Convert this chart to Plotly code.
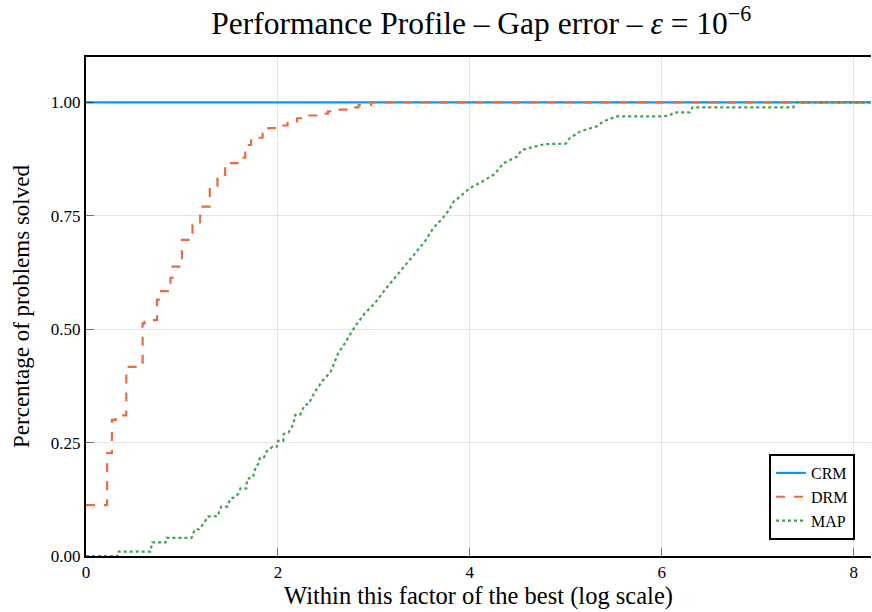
import plotly.graph_objects as go

# CRM: always solved
crm_x = [0.0, 8.2]
crm_y = [1.0, 1.0]

# DRM: step function (x where value starts, value)
drm_x = [0.0, 0.22, 0.27, 0.31, 0.42, 0.59, 0.61, 0.74, 0.76, 0.88, 0.90, 1.00,
         1.11, 1.19, 1.29, 1.37, 1.45, 1.58, 1.66, 1.72, 1.84, 1.90, 2.00, 2.10,
         2.20, 2.30, 2.40, 2.52, 2.63, 2.74, 2.84, 2.97, 8.2]
drm_y = [0.112, 0.227, 0.300, 0.310, 0.417, 0.513, 0.520, 0.565, 0.584, 0.613, 0.638, 0.697,
         0.730, 0.770, 0.809, 0.840, 0.866, 0.878, 0.906, 0.922, 0.934, 0.943, 0.949, 0.958,
         0.965, 0.971, 0.975, 0.980, 0.984, 0.989, 0.994, 1.000, 1.000]

# MAP: vertices
map_x = [0.0, 0.33, 0.33, 0.67, 0.69, 0.83, 0.84, 1.10, 1.135, 1.18, 1.23, 1.27, 1.375,
         1.39, 1.41, 1.475, 1.50, 1.56, 1.59, 1.61, 1.67, 1.68, 1.74, 1.77, 1.80, 1.81,
         1.85, 1.88, 1.945, 1.99, 2.0, 2.055, 2.06, 2.11, 2.16, 2.18, 2.23, 2.28, 2.32,
         2.385, 2.472, 2.549, 2.628, 2.698, 2.802, 2.906, 3.01, 3.115, 3.229, 3.34, 3.44,
         3.53, 3.62, 3.705, 3.785, 3.83, 3.878, 4.0, 4.10, 4.26, 4.35, 4.49, 4.54, 4.69,
         4.78, 5.0, 5.04, 5.15, 5.32, 5.39, 5.48, 5.53, 6.01, 6.08, 6.13, 6.29, 6.32,
         7.37, 7.40, 8.2]
map_y = [0.0, 0.0, 0.0095, 0.0095, 0.030, 0.030, 0.040, 0.040, 0.059, 0.059, 0.073, 0.087, 0.088,
         0.100, 0.109, 0.109, 0.125, 0.131, 0.138, 0.149, 0.149, 0.170, 0.174, 0.197, 0.204, 0.215,
         0.215, 0.230, 0.241, 0.241, 0.254, 0.254, 0.269, 0.272, 0.290, 0.311, 0.311, 0.333, 0.335,
         0.362, 0.388, 0.406, 0.447, 0.469, 0.506, 0.535, 0.557, 0.587, 0.616, 0.644, 0.669,
         0.693, 0.723, 0.742, 0.763, 0.781, 0.789, 0.811, 0.822, 0.842, 0.866, 0.880, 0.895, 0.903,
         0.908, 0.909, 0.921, 0.936, 0.947, 0.958, 0.966, 0.969, 0.969, 0.971, 0.978, 0.978, 0.989,
         0.989, 1.0, 1.0]

x_ticks = [0, 2, 4, 6, 8]
y_ticks = [0.0, 0.25, 0.5, 0.75, 1.0]
y_tick_labels = ["0.00", "0.25", "0.50", "0.75", "1.00"]

FONT = "Liberation Serif, DejaVu Serif, serif"

fig = go.Figure()
fig.add_trace(go.Scatter(x=crm_x, y=crm_y, mode="lines", name="CRM",
                         line=dict(color="#009AFA", width=2.2, dash="solid")))
fig.add_trace(go.Scatter(x=drm_x, y=drm_y, mode="lines", name="DRM", line_shape="hv",
                         line=dict(color="#E26F46", width=2.2, dash="dash")))
fig.add_trace(go.Scatter(x=map_x, y=map_y, mode="lines", name="MAP",
                         line=dict(color="#3DA44D", width=2.2, dash="dot")))

fig.update_layout(
    width=872, height=612,
    margin=dict(l=86, r=1, t=57, b=56),
    paper_bgcolor="white", plot_bgcolor="white",
    font=dict(family=FONT, color="black"),
    title=dict(text="Performance Profile – Gap error – <i>ε</i> = 10<sup>−6</sup>",
               x=0.552, xanchor="center", y=0.962, yanchor="middle",
               font=dict(size=31.5, family=FONT, color="black")),
    legend=dict(x=0.9796, y=0.032, xanchor="right", yanchor="bottom",
                bgcolor="white", bordercolor="black", borderwidth=2,
                font=dict(size=16, family=FONT), tracegroupgap=0,
                itemwidth=30),
    showlegend=True,
)
fig.update_xaxes(range=[0, 8.18], tickvals=x_ticks, ticktext=[str(v) for v in x_ticks],
                 showgrid=True, gridcolor="rgba(0,0,0,0.1)", gridwidth=1,
                 showline=True, linecolor="black", linewidth=2, mirror=True,
                 ticks="inside", ticklen=8, tickcolor="rgba(0,0,0,0.5)", tickwidth=1,
                 zeroline=False, tickfont=dict(size=17, family=FONT),
                 title=dict(text="Within this factor of the best (log scale)",
                            font=dict(size=24.5, family=FONT), standoff=3))
fig.update_yaxes(range=[0, 1.1], tickvals=y_ticks, ticktext=y_tick_labels,
                 showgrid=True, gridcolor="rgba(0,0,0,0.1)", gridwidth=1,
                 showline=True, linecolor="black", linewidth=2, mirror=False,
                 ticks="inside", ticklen=8, tickcolor="rgba(0,0,0,0.5)", tickwidth=1,
                 zeroline=False, tickfont=dict(size=17, family=FONT),
                 title=dict(text="Percentage of problems solved",
                            font=dict(size=23, family=FONT), standoff=15))

fig.write_html("out.html", config={"displayModeBar": False},
               post_script="document.body.style.margin='0px';document.body.style.overflow='hidden';")
